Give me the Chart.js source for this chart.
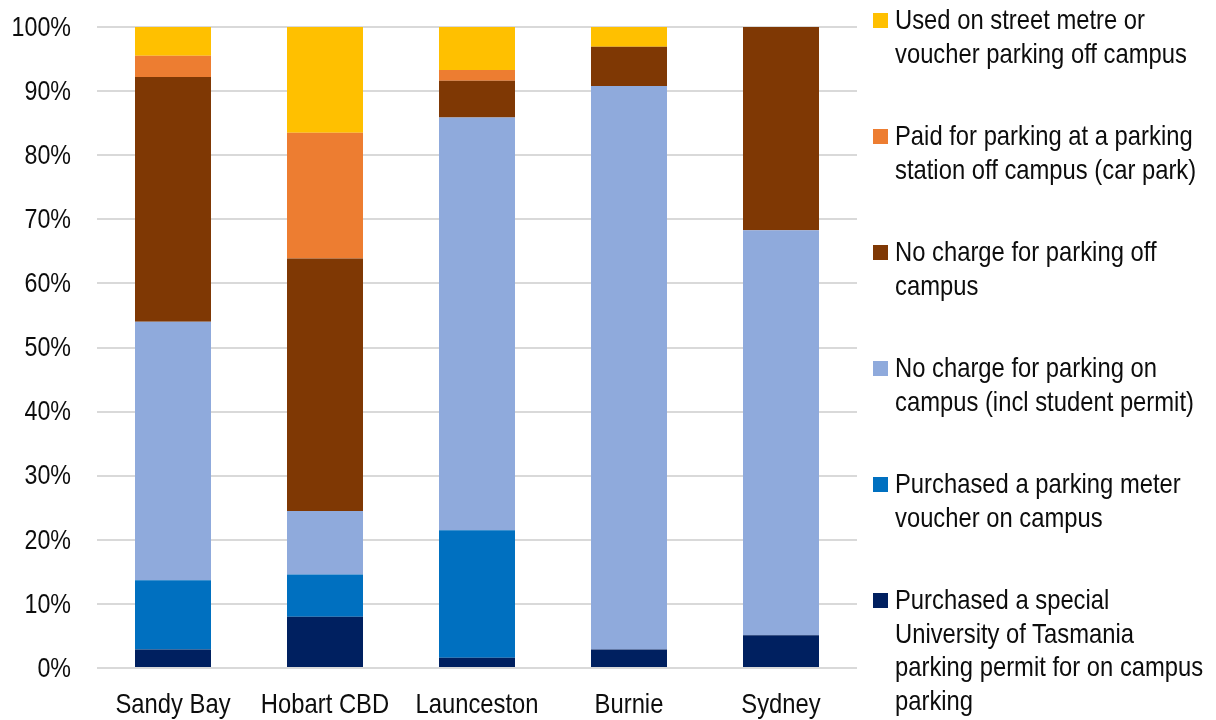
<!DOCTYPE html>
<html>
<head>
<meta charset="utf-8">
<title>Parking payment by campus</title>
<script src="https://cdn.jsdelivr.net/npm/chart.js@4/dist/chart.umd.min.js"></script>
<style>
  html, body { margin: 0; padding: 0; background: #fff; }
  #wrap { position: relative; width: 1216px; height: 720px; overflow: hidden; }
  #legend { position: absolute; left: 0; top: 0; width: 1216px; height: 720px; pointer-events: none; }
  .item { position: absolute; left: 873px; font-family: "Liberation Sans", Arial, sans-serif; font-size: 28px; line-height: 33.5px; color: #0d0d0d; white-space: nowrap; }
  .swatch { position: absolute; left: 0; top: 10px; width: 15px; height: 15px; }
  .text { position: absolute; left: 22px; top: 0; transform: scaleX(0.85); transform-origin: 0 0; }
</style>
</head>
<body>
<div id="wrap">
  <canvas id="chart" width="1216" height="720"></canvas>
  <div id="legend"></div>
</div>
<script>
// Campuses along the x axis
const campuses = ["Sandy Bay", "Hobart CBD", "Launceston", "Burnie", "Sydney"];

// Share of respondents (%) per parking type, per campus
const specialPermit   = [2.9, 8.0, 1.6, 2.9, 5.1];
const meterVoucher    = [10.8, 6.6, 19.9, 0, 0];
const freeOnCampus    = [40.3, 9.9, 64.4, 87.9, 63.2];
const freeOffCampus   = [38.2, 39.4, 5.7, 6.1, 31.7];
const paidCarPark     = [3.3, 19.6, 1.7, 0, 0];
const streetMetre     = [4.5, 16.5, 6.7, 3.1, 0];

// Legend text, one entry per line
const labelSpecialPermit = ["Purchased a special", "University of Tasmania", "parking permit for on campus", "parking"];
const labelMeterVoucher  = ["Purchased a parking meter", "voucher on campus"];
const labelFreeOn        = ["No charge for parking on", "campus (incl student permit)"];
const labelFreeOff       = ["No charge for parking off", "campus"];
const labelPaidCarPark   = ["Paid for parking at a parking", "station off campus (car park)"];
const labelStreetMetre   = ["Used on street metre or", "voucher parking off campus"];

// Y axis tick values
const yTicks = [0, 10, 20, 30, 40, 50, 60, 70, 80, 90, 100];

const series = [
  { lines: labelSpecialPermit, data: specialPermit, color: "#002060" },
  { lines: labelMeterVoucher,  data: meterVoucher,  color: "#0070C0" },
  { lines: labelFreeOn,        data: freeOnCampus,  color: "#8FAADC" },
  { lines: labelFreeOff,       data: freeOffCampus, color: "#7F3804" },
  { lines: labelPaidCarPark,   data: paidCarPark,   color: "#ED7D31" },
  { lines: labelStreetMetre,   data: streetMetre,   color: "#FFC000" }
];

const FONT = "'Liberation Sans', Arial, sans-serif";
const TEXT_COLOR = "#0d0d0d";
const NARROW = 0.83;   // horizontal squeeze for axis labels

// Draws the axis tick labels in a narrow, tall face
const narrowTickLabels = {
  id: "narrowTickLabels",
  afterDraw(chart) {
    const ctx = chart.ctx;
    const xs = chart.scales.x, ys = chart.scales.y;
    ctx.save();
    ctx.fillStyle = TEXT_COLOR;
    ctx.font = "28px " + FONT;

    // y axis: right aligned, centred on each gridline
    ctx.textAlign = "right";
    ctx.textBaseline = "middle";
    ys.ticks.forEach(t => {
      const y = ys.getPixelForValue(t.value);
      ctx.save();
      ctx.translate(ys.right - 26, y + 1);
      ctx.scale(NARROW, 1);
      ctx.fillText(t.value + "%", 0, 0);
      ctx.restore();
    });

    // x axis: centred under each bar
    ctx.textAlign = "center";
    ctx.textBaseline = "alphabetic";
    xs.ticks.forEach((t, i) => {
      const x = xs.getPixelForTick(i);
      ctx.save();
      ctx.translate(x, xs.top + 44.5);
      ctx.scale(NARROW + 0.02, 1);
      ctx.fillText(xs.getLabelForValue(t.value), 0, 0);
      ctx.restore();
    });
    ctx.restore();
  }
};

new Chart(document.getElementById("chart"), {
  type: "bar",
  data: {
    labels: campuses,
    datasets: series.map(s => ({
      label: s.lines.join(" "),
      data: s.data,
      backgroundColor: s.color,
      borderWidth: 0,
      barPercentage: 0.5,
      categoryPercentage: 1.0
    }))
  },
  plugins: [narrowTickLabels],
  options: {
    responsive: false,
    animation: false,
    events: [],
    layout: { padding: { top: 27, right: 359, left: 0, bottom: 0 } },
    plugins: { legend: { display: false }, tooltip: { enabled: false } },
    scales: {
      x: {
        stacked: true,
        grid: { display: false },
        border: { display: false },
        ticks: { display: false },
        afterFit: (scale) => { scale.height = 52; }
      },
      y: {
        stacked: true,
        min: 0,
        max: 100,
        afterBuildTicks: (scale) => { scale.ticks = yTicks.map(v => ({ value: v })); },
        grid: { color: "#d9d9d9", lineWidth: 2, drawTicks: false },
        border: { display: false },
        ticks: { display: false },
        afterFit: (scale) => {
          scale.width = 97;
          scale.paddingTop = 0;
          scale.paddingBottom = 0;
        }
      }
    }
  }
});

// Legend on the right, top entry is the top stack segment
const legend = document.getElementById("legend");
series.slice().reverse().forEach((s, i) => {
  const item = document.createElement("div");
  item.className = "item";
  item.style.top = (3 + i * 116) + "px";
  const sw = document.createElement("div");
  sw.className = "swatch";
  sw.style.background = s.color;
  const tx = document.createElement("div");
  tx.className = "text";
  tx.innerHTML = s.lines.join("<br>");
  item.appendChild(sw);
  item.appendChild(tx);
  legend.appendChild(item);
});
</script>
</body>
</html>
